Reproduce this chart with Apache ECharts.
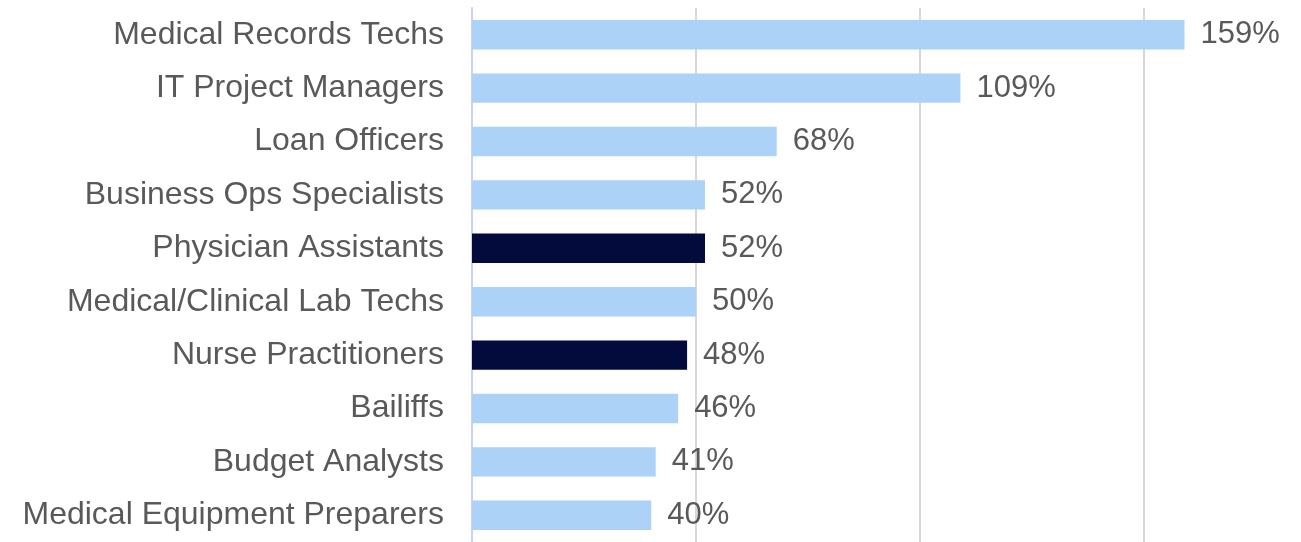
<!DOCTYPE html>
<html>
<head>
<meta charset="utf-8">
<script src="https://cdn.jsdelivr.net/npm/echarts@6/dist/echarts.min.js"></script>
<style>
  html, body { margin: 0; padding: 0; background: #ffffff; }
  #chart { width: 1301px; height: 542px; }
</style>
</head>
<body>
<div id="chart"></div>
<script>
// Occupations, top to bottom
const categories = [
  'Medical Records Techs',
  'IT Project Managers',
  'Loan Officers',
  'Business Ops Specialists',
  'Physician Assistants',
  'Medical/Clinical Lab Techs',
  'Nurse Practitioners',
  'Bailiffs',
  'Budget Analysts',
  'Medical Equipment Preparers'
];
// Projected growth, percent
const growth = [159, 109, 68, 52, 52, 50, 48, 46, 41, 40];
// Occupations drawn in the dark accent colour
const highlighted = ['Physician Assistants', 'Nurse Practitioners'];

const LIGHT = '#acd2f8';
const DARK = '#020b3c';
const TEXT = '#595959';
const GRID = '#d9d9d9';

const chart = echarts.init(document.getElementById('chart'), null, { renderer: 'canvas' });

chart.setOption({
  animation: false,
  backgroundColor: '#ffffff',
  grid: { left: 472, right: 0, top: 8, height: 537.5, containLabel: false },
  xAxis: {
    type: 'value',
    min: 0,
    max: 185,
    interval: 50,
    axisLabel: { show: false },
    axisLine: { show: false },
    axisTick: { show: false },
    splitLine: {
      show: true,
      lineStyle: { color: [GRID, GRID, GRID, GRID, 'rgba(0,0,0,0)'], width: 2 }
    }
  },
  yAxis: {
    type: 'category',
    inverse: true,
    data: categories,
    axisLine: { show: true, lineStyle: { color: '#c9d1f6', width: 2 } },
    axisTick: { show: false },
    axisLabel: {
      margin: 28,
      fontFamily: 'Liberation Sans, Arial, sans-serif',
      fontSize: 32,
      color: TEXT
    }
  },
  series: [{
    type: 'bar',
    barWidth: '55%',
    data: growth,
    itemStyle: {
      color: (p) => highlighted.includes(categories[p.dataIndex]) ? DARK : LIGHT
    },
    label: {
      show: true,
      position: 'right',
      distance: 16,
      formatter: '{c}%',
      fontFamily: 'Liberation Sans, Arial, sans-serif',
      fontSize: 31,
      color: TEXT
    }
  }]
});
</script>
</body>
</html>
